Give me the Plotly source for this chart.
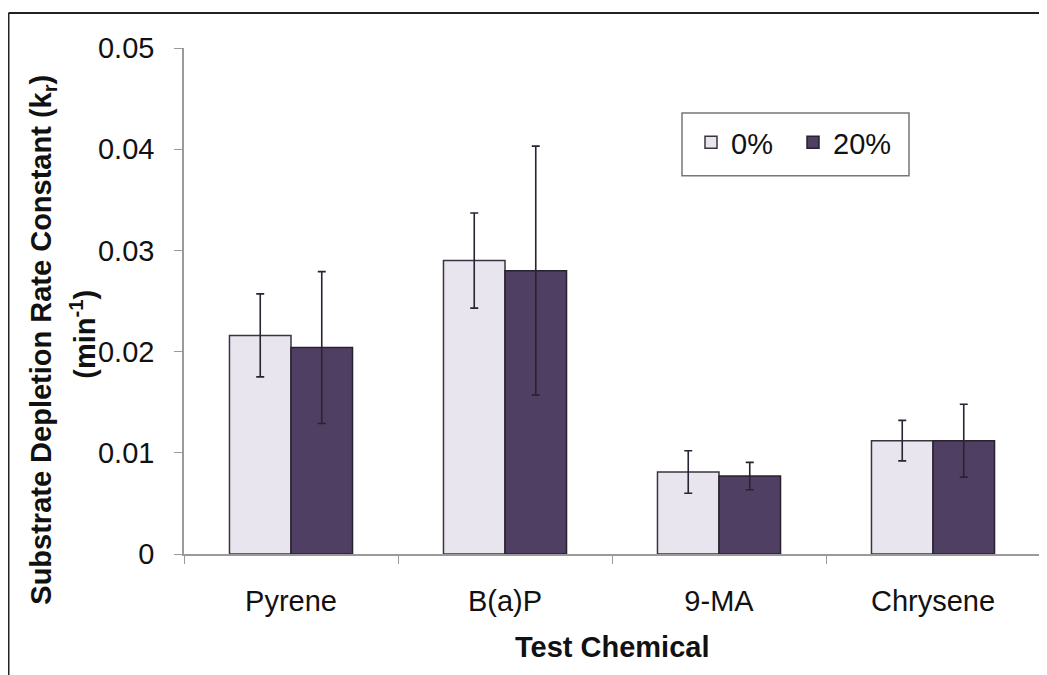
import plotly.graph_objects as go

categories = ["Pyrene", "B(a)P", "9-MA", "Chrysene"]
series_names = ["0%", "20%"]
values_0 = [0.0216, 0.0290, 0.0081, 0.0112]
errors_0 = [0.0041, 0.0047, 0.0021, 0.0020]
values_20 = [0.0204, 0.0280, 0.0077, 0.0112]
errors_20 = [0.0075, 0.0123, 0.00135, 0.0036]
y_ticks = [0, 0.01, 0.02, 0.03, 0.04, 0.05]
y_tick_labels = ["0", "0.01", "0.02", "0.03", "0.04", "0.05"]

# the page body adds an 8px offset; work in page pixel coordinates
OFF = 8
PAGE_W, PAGE_H = 1047, 675
W, H = PAGE_W - OFF, PAGE_H - OFF
PL, PR, PT, PB = 184, 1040, 48, 554.5  # plot area in page pixels
L, T = PL - OFF, PT - OFF
R = W - (PR - OFF)
B = H - (PB - OFF)
pw, ph = PR - PL, PB - PT


def px(x):
    return (x - PL) / pw


def py(y):
    return (PB - y) / ph


font = "Liberation Sans, Arial, sans-serif"
err_style = dict(type="data", visible=True, color="#2b2233", thickness=1.6, width=4)

fig = go.Figure()
fig.add_trace(go.Bar(
    x=categories, y=values_0, name=series_names[0],
    marker=dict(color="#E9E5EF", line=dict(color="#3a3340", width=1.5)),
    error_y=dict(array=errors_0, **err_style),
))
fig.add_trace(go.Bar(
    x=categories, y=values_20, name=series_names[1],
    marker=dict(color="#4F3F62", line=dict(color="#2a2230", width=1.5)),
    error_y=dict(array=errors_20, **err_style),
))

fig.update_layout(
    width=W, height=H,
    margin=dict(l=L, r=R, t=T, b=B, autoexpand=False),
    paper_bgcolor="white", plot_bgcolor="white",
    barmode="group", bargap=0.425, bargroupgap=0,
    font=dict(family=font, size=29, color="#111"),
    showlegend=True,
    legend=dict(
        orientation="h", x=px(691), y=py(117), xanchor="left", yanchor="top",
        bgcolor="rgba(0,0,0,0)", borderwidth=0,
        font=dict(family=font, size=29, color="#111"),
        itemwidth=30, entrywidth=57, tracegroupgap=0,
    ),
    xaxis=dict(
        showline=True, linecolor="#9a9a9a", linewidth=1.5,
        ticks="outside", tickson="boundaries", ticklen=8, tickcolor="#9a9a9a", tickwidth=1.2,
        showgrid=False, zeroline=False,
        tickfont=dict(family=font, size=29, color="#111"),
        ticklabelstandoff=20,
    ),
    yaxis=dict(
        range=[0, 0.05], tickvals=y_ticks, ticktext=y_tick_labels,
        showline=True, linecolor="#9a9a9a", linewidth=1.5,
        ticks="outside", ticklen=8, tickcolor="#9a9a9a", tickwidth=1.2,
        showgrid=False, zeroline=False,
        tickfont=dict(family=font, size=29, color="#111"),
        ticklabelstandoff=14,
    ),
)

# legend box
fig.add_shape(type="rect", xref="paper", yref="paper",
              x0=px(682), y0=py(113), x1=px(909), y1=py(176),
              line=dict(color="#777", width=1.5), fillcolor="white", layer="above")

fig.add_annotation(
    text="<b>Substrate Depletion Rate Constant (k<sub>r</sub>)</b>",
    xref="paper", yref="paper", x=px(43), y=py(340),
    xanchor="center", yanchor="middle", textangle=-90, showarrow=False,
    font=dict(family=font, size=29, color="#111"),
)
fig.add_annotation(
    text="<b>(min<sup>-1</sup>)</b>",
    xref="paper", yref="paper", x=px(83), y=py(335),
    xanchor="center", yanchor="middle", textangle=-90, showarrow=False,
    font=dict(family=font, size=29, color="#111"),
)
fig.add_annotation(
    text="<b>Test Chemical</b>",
    xref="paper", yref="paper", x=px(612), y=py(648),
    xanchor="center", yanchor="middle", showarrow=False,
    font=dict(family=font, size=29, color="#111"),
)

# outer frame (top and left edges)
fig.add_shape(type="line", xref="paper", yref="paper",
              x0=px(8.5), y0=py(13), x1=px(1050), y1=py(13),
              line=dict(color="#222", width=2))
fig.add_shape(type="line", xref="paper", yref="paper",
              x0=px(8.5), y0=py(13), x1=px(8.5), y1=py(680),
              line=dict(color="#222", width=2))

fig.write_html("out.html")
